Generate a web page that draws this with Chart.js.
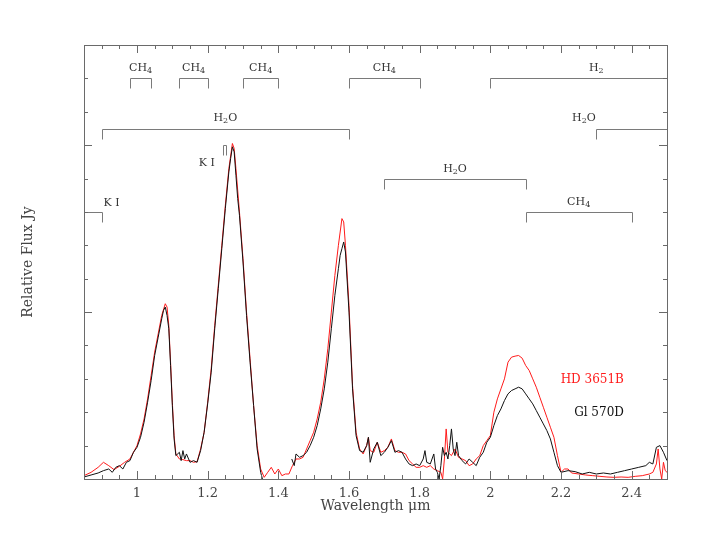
<!DOCTYPE html>
<html>
<head>
<meta charset="utf-8">
<script src="https://cdn.jsdelivr.net/npm/chart.js@4/dist/chart.umd.min.js"></script>
<style>
  html, body { margin: 0; padding: 0; background: #fff; }
</style>
</head>
<body>
<canvas id="spectrumChart" width="715" height="553"></canvas>
<script>
// spectra (wavelength in micron, relative flux)
const redWave = [0.85,0.87,0.89,0.905,0.92,0.935,0.95,0.965,0.98,1.00,1.01,1.02,1.03,1.04,1.05,1.06,1.07,1.08,1.085,1.09,1.095,1.10,1.105,1.11,1.12,1.13,1.14,1.15,1.16,1.17,1.18,1.19,1.20,1.21,1.22,1.23,1.24,1.25,1.26,1.27,1.275,1.28,1.29,1.30,1.31,1.32,1.33,1.34,1.35,1.36,1.37,1.38,1.39,1.40,1.41,1.42,1.43,1.44,1.45,1.46,1.47,1.48,1.49,1.50,1.51,1.52,1.53,1.54,1.55,1.56,1.57,1.58,1.585,1.59,1.60,1.61,1.62,1.63,1.64,1.65,1.655,1.66,1.67,1.68,1.69,1.70,1.71,1.72,1.73,1.74,1.75,1.76,1.77,1.78,1.79,1.80,1.81,1.82,1.83,1.84,1.85,1.86,1.865,1.87,1.875,1.88,1.89,1.90,1.91,1.92,1.93,1.94,1.95,1.96,1.97,1.98,1.99,2.00,2.01,2.02,2.03,2.04,2.05,2.06,2.07,2.08,2.09,2.10,2.11,2.12,2.13,2.14,2.15,2.16,2.17,2.18,2.19,2.20,2.21,2.22,2.23,2.25,2.27,2.29,2.31,2.33,2.35,2.37,2.39,2.41,2.43,2.45,2.46,2.47,2.475,2.48,2.485,2.49,2.495,2.50];
const redFlux = [0.10,0.20,0.35,0.50,0.40,0.28,0.38,0.50,0.60,1.00,1.35,1.80,2.40,3.10,3.80,4.35,4.90,5.25,5.15,4.60,3.50,2.30,1.30,0.75,0.60,0.58,0.55,0.55,0.50,0.52,0.90,1.40,2.30,3.30,4.60,5.80,7.00,8.20,9.30,10.05,9.90,9.30,8.00,6.60,5.00,3.60,2.20,1.00,0.30,0.05,0.20,0.35,0.15,0.30,0.10,0.15,0.15,0.40,0.60,0.60,0.65,0.90,1.15,1.40,1.80,2.30,3.00,3.90,5.00,6.10,7.00,7.80,7.70,7.00,5.20,2.80,1.40,0.90,0.75,1.00,1.25,0.85,0.80,1.10,0.80,0.85,0.95,1.20,0.85,0.80,0.80,0.75,0.55,0.45,0.35,0.35,0.40,0.35,0.40,0.30,0.25,0.20,0.00,0.60,1.50,0.80,0.70,0.90,0.65,0.60,0.55,0.40,0.45,0.60,0.70,1.00,1.15,1.30,2.00,2.40,2.70,3.00,3.50,3.65,3.68,3.70,3.62,3.40,3.25,3.00,2.75,2.45,2.15,1.85,1.55,1.25,0.70,0.20,0.30,0.30,0.18,0.15,0.12,0.10,0.08,0.06,0.05,0.06,0.05,0.08,0.10,0.15,0.20,0.45,0.90,0.30,0.00,0.50,0.25,0.20];

const blackWave = [0.85,0.87,0.89,0.905,0.92,0.93,0.94,0.95,0.96,0.97,0.98,0.99,1.00,1.01,1.02,1.03,1.04,1.05,1.06,1.07,1.075,1.08,1.085,1.09,1.095,1.10,1.105,1.11,1.12,1.125,1.13,1.135,1.14,1.15,1.16,1.17,1.18,1.19,1.20,1.21,1.22,1.23,1.24,1.25,1.26,1.265,1.27,1.275,1.28,1.285,1.29,1.30,1.31,1.32,1.33,1.34,1.35,1.355,1.40,1.438,1.445,1.45,1.46,1.47,1.48,1.49,1.50,1.51,1.52,1.53,1.54,1.55,1.56,1.57,1.575,1.58,1.585,1.59,1.60,1.61,1.62,1.63,1.64,1.65,1.655,1.66,1.67,1.68,1.69,1.70,1.71,1.72,1.73,1.74,1.75,1.76,1.77,1.78,1.79,1.80,1.81,1.815,1.82,1.83,1.84,1.845,1.85,1.855,1.86,1.865,1.87,1.875,1.88,1.885,1.89,1.895,1.90,1.905,1.91,1.92,1.93,1.94,1.95,1.96,1.97,1.98,1.99,2.00,2.01,2.02,2.03,2.04,2.05,2.06,2.07,2.08,2.09,2.10,2.11,2.12,2.13,2.14,2.15,2.16,2.17,2.18,2.19,2.20,2.22,2.24,2.26,2.28,2.30,2.32,2.34,2.36,2.38,2.40,2.42,2.44,2.45,2.46,2.47,2.48,2.49,2.50];
const blackFlux = [0.06,0.12,0.18,0.25,0.30,0.20,0.35,0.40,0.30,0.50,0.55,0.80,0.95,1.25,1.70,2.30,2.95,3.70,4.25,4.80,5.05,5.15,4.90,4.50,3.40,2.20,1.20,0.70,0.80,0.55,0.85,0.60,0.75,0.50,0.55,0.50,0.85,1.40,2.25,3.20,4.50,5.70,6.90,8.10,9.20,9.60,9.95,9.80,9.10,8.40,7.90,6.50,4.90,3.50,2.20,0.90,0.20,0.00,null,0.60,0.40,0.75,0.65,0.70,0.80,1.00,1.25,1.60,2.10,2.70,3.50,4.50,5.50,6.30,6.70,6.90,7.10,6.80,5.00,2.70,1.30,0.85,0.80,1.00,1.25,0.50,0.90,1.10,0.70,0.80,0.95,1.15,0.80,0.85,0.80,0.60,0.45,0.40,0.45,0.40,0.60,0.85,0.50,0.45,0.75,0.30,0.20,0.00,0.40,0.95,0.70,0.80,0.60,1.00,1.50,0.90,0.70,1.10,0.70,0.55,0.45,0.60,0.50,0.40,0.65,0.80,1.10,1.25,1.60,1.90,2.10,2.35,2.55,2.65,2.70,2.75,2.70,2.55,2.40,2.25,2.05,1.85,1.65,1.45,1.20,0.80,0.40,0.20,0.25,0.22,0.15,0.20,0.15,0.18,0.15,0.20,0.25,0.30,0.35,0.40,0.50,0.45,0.95,1.00,0.80,0.55];

const seriesNames = ['Gl 570D', 'HD 3651B'];
const xTickValues = [1, 1.2, 1.4, 1.6, 1.8, 2, 2.2, 2.4];

// absorption band markers: name, wavelength range, bracket level, label placement
const bandNames = ['CH4', 'CH4', 'CH4', 'CH4', 'H2', 'H2O', 'H2O', 'H2O', 'CH4', 'K I', 'K I'];
const bandStart = [0.98, 1.12, 1.30, 1.60, 2.00, 0.90, 2.30, 1.70, 2.10, 0.80, 1.243];
const bandEnd = [1.04, 1.20, 1.40, 1.80, 2.60, 1.60, 2.60, 2.10, 2.40, 0.90, 1.252];
const bandLevel = [12, 12, 12, 12, 12, 10.48, 10.48, 8.98, 7.99, 7.99, 10.0];
const bandLabelAt = [1.01, 1.16, 1.35, 1.70, 2.30, 1.25, 2.265, 1.90, 2.25, 0.905, 1.22];
const bandLabelLevel = [12.31, 12.31, 12.31, 12.31, 12.31, 10.81, 10.81, 9.29, 8.29, 8.27, 9.47];
const bandAlign = ['center', 'center', 'center', 'center', 'center', 'center', 'center', 'center', 'center', 'left', 'right'];

const X_MIN = 0.85, X_MAX = 2.5, Y_MAX = 13;
const SERIF = '"DejaVu Serif", "Liberation Serif", serif';

// text like CH4 / H2O with the digits lowered as subscripts
function drawChem(ctx, text, x, y, align) {
  const parts = [];
  for (let i = 0; i < text.length; i++) {
    const c = text[i];
    const sub = /[0-9]/.test(c) && i > 0 && /[A-Za-z]/.test(text[i - 1]);
    parts.push({ c, sub });
  }
  const big = '11px ' + SERIF, small = '8px ' + SERIF;
  let width = 0;
  parts.forEach(p => { ctx.font = p.sub ? small : big; p.w = ctx.measureText(p.c).width; width += p.w; });
  let cx = align === 'left' ? x : align === 'right' ? x - width : x - width / 2;
  ctx.textAlign = 'left';
  ctx.textBaseline = 'middle';
  parts.forEach(p => {
    ctx.font = p.sub ? small : big;
    ctx.fillText(p.c, cx, p.sub ? y + 3 : y);
    cx += p.w;
  });
}

const framePlugin = {
  id: 'frame',
  afterDraw(chart) {
    const { ctx, chartArea: a, scales: { x, y } } = chart;
    ctx.save();
    ctx.strokeStyle = '#6a6a6a';
    ctx.lineWidth = 1;
    ctx.strokeRect(Math.round(a.left) + 0.5, Math.round(a.top) + 0.5, Math.round(a.right - a.left), Math.round(a.bottom - a.top));
    ctx.beginPath();
    // x ticks every 0.05, long ones every 0.2
    for (let k = 17; k <= 50; k++) {
      const px = Math.round(x.getPixelForValue(k * 0.05)) + 0.5;
      const len = k % 4 === 0 ? 8 : 4;
      ctx.moveTo(px, a.bottom); ctx.lineTo(px, a.bottom - len);
      ctx.moveTo(px, a.top); ctx.lineTo(px, a.top + len);
    }
    // y ticks every 1, long ones every 5
    for (let v = 1; v < Y_MAX; v++) {
      const py = Math.round(y.getPixelForValue(v)) + 0.5;
      const len = v % 5 === 0 ? 8 : 4;
      ctx.moveTo(a.left, py); ctx.lineTo(a.left + len, py);
      ctx.moveTo(a.right, py); ctx.lineTo(a.right - len, py);
    }
    ctx.stroke();
    ctx.restore();
  },
  afterDatasetsDraw(chart) {
    const { ctx, chartArea: a, scales: { x, y } } = chart;
    ctx.save();
    ctx.beginPath();
    ctx.rect(a.left, a.top, a.right - a.left, a.bottom - a.top);
    ctx.clip();
    ctx.strokeStyle = '#7a7a7a';
    ctx.lineWidth = 1;
    bandNames.forEach((name, i) => {
      const x0 = Math.round(x.getPixelForValue(bandStart[i])) + 0.5;
      const x1 = Math.round(x.getPixelForValue(bandEnd[i])) + 0.5;
      const py = Math.round(y.getPixelForValue(bandLevel[i])) + 0.5;
      ctx.beginPath();
      if (bandStart[i] > X_MIN) { ctx.moveTo(x0, py + 10); ctx.lineTo(x0, py); } else ctx.moveTo(x0, py);
      ctx.lineTo(x1, py);
      if (bandEnd[i] < X_MAX) ctx.lineTo(x1, py + 10);
      ctx.stroke();
      ctx.fillStyle = '#333';
      drawChem(ctx, name, x.getPixelForValue(bandLabelAt[i]), y.getPixelForValue(bandLabelLevel[i]), bandAlign[i]);
    });
    // series names
    ctx.font = '12px ' + SERIF;
    ctx.textAlign = 'right';
    ctx.textBaseline = 'middle';
    ctx.fillStyle = '#ff1a1a';
    ctx.fillText(seriesNames[1], x.getPixelForValue(2.378), y.getPixelForValue(2.96));
    ctx.fillStyle = '#111';
    ctx.fillText(seriesNames[0], x.getPixelForValue(2.378), y.getPixelForValue(1.98));
    ctx.restore();
  }
};

const ctx = document.getElementById('spectrumChart').getContext('2d');

new Chart(ctx, {
  type: 'line',
  data: {
    datasets: [
      {
        label: seriesNames[0],
        data: blackWave.map((w, i) => ({ x: w, y: blackFlux[i] })),
        borderColor: '#111',
        borderWidth: 1,
        pointRadius: 0,
        spanGaps: false,
        tension: 0
      },
      {
        label: seriesNames[1],
        data: redWave.map((w, i) => ({ x: w, y: redFlux[i] })),
        borderColor: '#ff1a1a',
        borderWidth: 1,
        pointRadius: 0,
        tension: 0
      }
    ]
  },
  options: {
    responsive: false,
    devicePixelRatio: 1,
    animation: false,
    events: [],
    layout: { padding: { top: 45, right: 48, left: 0, bottom: 0 } },
    plugins: { legend: { display: false }, tooltip: { enabled: false } },
    scales: {
      x: {
        type: 'linear',
        min: X_MIN,
        max: X_MAX,
        grid: { display: false, drawTicks: false },
        border: { display: false },
        afterBuildTicks: scale => { scale.ticks = xTickValues.map(v => ({ value: v })); },
        afterFit: scale => { scale.height = 74; },
        ticks: {
          padding: 7,
          maxRotation: 0,
          color: '#444',
          font: { family: SERIF, size: 13 },
          callback: v => String(Number(v.toFixed(1)))
        },
        title: {
          display: true,
          text: 'Wavelength μm',
          color: '#444',
          font: { family: SERIF, size: 14 },
          padding: { top: 0, bottom: 38 }
        }
      },
      y: {
        min: 0,
        max: Y_MAX,
        grid: { display: false, drawTicks: false },
        border: { display: false },
        ticks: { display: false },
        afterFit: scale => { scale.width = 84; },
        title: {
          display: true,
          text: 'Relative Flux Jy',
          color: '#444',
          font: { family: SERIF, size: 14 },
          padding: { top: 20, bottom: 0 }
        }
      }
    }
  },
  plugins: [framePlugin]
});
</script>
</body>
</html>
